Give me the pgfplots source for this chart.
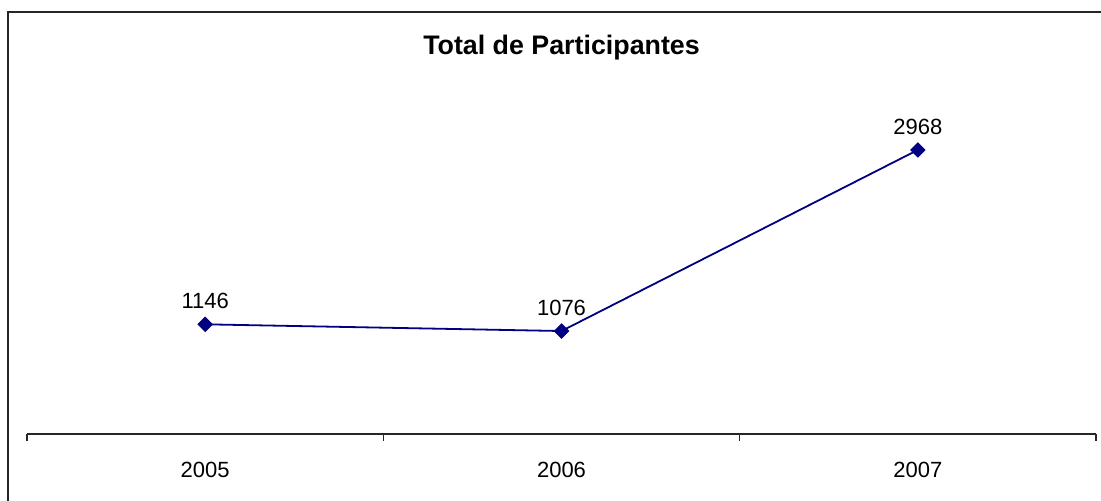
\documentclass[border=0pt]{standalone}
\usepackage{pgfplots}
\pgfplotsset{compat=1.18}
\usepackage{fontspec}
\setmainfont{Liberation Sans}
\definecolor{navyline}{RGB}{0,0,128}
\begin{document}
\begin{tikzpicture}[x=1pt,y=1pt]
\path[use as bounding box] (0,0) rectangle (550.5,-250);
\draw[line width=0.8pt,black!85] (4,-6) rectangle (560,-260);
\begin{axis}[
  at={(13.5pt,-217pt)}, anchor=south west,
  scale only axis, width=534.5pt, height=167.5pt,
  xmin=-0.5, xmax=2.5, ymin=0, ymax=3500,
  axis x line*=bottom, axis y line=none,
  x axis line style={-, line width=0.6pt, black!85},
  xtick={-0.5,0.5,1.5,2.5},
  xticklabels={2005,2006,2007},
  x tick label as interval,
  tick align=outside, major tick length=3.5pt,
  xtick style={line width=0.6pt, black!85},
  ytick=\empty,
  x tick label style={font=\fontsize{11}{13}\selectfont, anchor=center, yshift=-14.5pt},
  /pgf/number format/1000 sep={},
  /pgf/number format/assume math mode=true,
  nodes near coords,
  nodes near coords style={font=\fontsize{11}{13}\selectfont, anchor=center, yshift=11.5pt, text=black},
  clip=false,
]
\addplot[color=navyline, line width=0.9pt, mark=square*, mark size=2.5pt, mark options={rotate=45, fill=navyline, line width=0.5pt}]
  coordinates {(0,1146) (1,1076) (2,2968)};
\end{axis}
\node[anchor=base, font=\bfseries\fontsize{13.4}{15}\selectfont, inner sep=0pt] at (280.75,-27) {Total de Participantes};
\end{tikzpicture}
\end{document}
